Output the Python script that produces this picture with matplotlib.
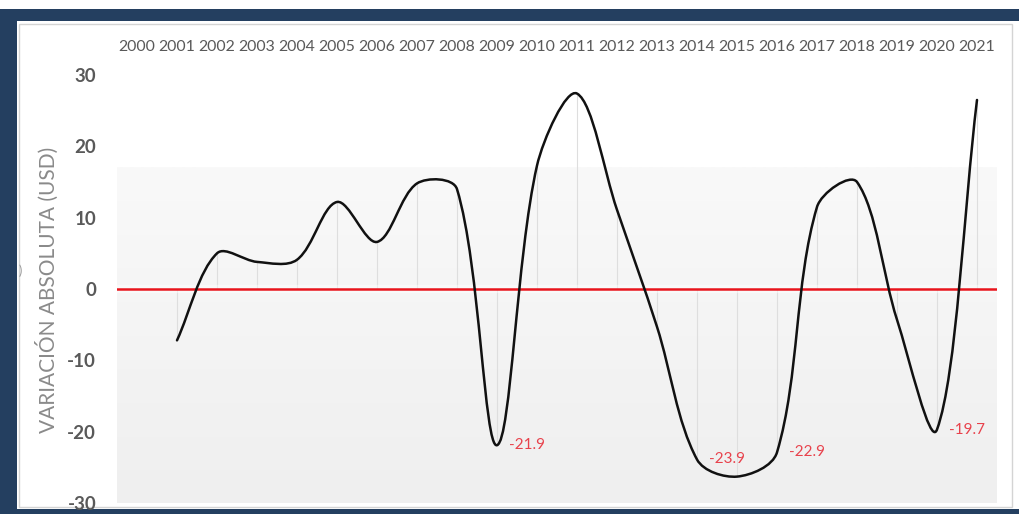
import numpy as np
import matplotlib
matplotlib.use("Agg")
import matplotlib.pyplot as plt
from matplotlib.path import Path
from matplotlib.patches import PathPatch, Rectangle

# ---- data -------------------------------------------------------------
years = list(range(2000, 2022))
series_years = list(range(2001, 2022))
variation = [-7.2, 5.0, 3.8, 4.1, 12.2, 6.6, 14.8, 14.0, -21.9, 17.3, 27.4,
             11.1, -5.3, -23.9, -26.3, -22.9, 11.5, 15.0, -4.3, -19.7, 26.5]
labelled_years = [2009, 2014, 2016, 2020]
y_ticks = [30, 20, 10, 0, -10, -20, -30]
y_title = "VARIACIÓN ABSOLUTA (USD)"

# ---- styling ----------------------------------------------------------
NAVY = "#243F60"
TXT = "#595959"
RED = "#E8141C"
LABEL_RED = "#E8424C"
plt.rcParams["font.family"] = ["Lato", "DejaVu Sans"]

W, H = 1020, 514
fig = plt.figure(figsize=(W / 100, H / 100), dpi=100)
fig.patch.set_facecolor("white")


def fx(px):
    return px / W


def fy(py):
    return 1 - py / H


# frame: navy bands and the white inner panel
for (x0, y0, x1, y1) in [(0, 9, 1020, 21), (0, 9, 17, 514), (0, 509, 1020, 514)]:
    fig.add_artist(Rectangle((fx(x0), fy(y1)), fx(x1) - fx(x0), fy(y0) - fy(y1),
                             transform=fig.transFigure, facecolor=NAVY,
                             edgecolor="none", zorder=0))
fig.add_artist(Rectangle((fx(19), fy(507)), fx(1012) - fx(19), fy(24) - fy(507),
                         transform=fig.transFigure, facecolor="white",
                         edgecolor="#D4D4D4", lw=1.0, zorder=0))

# ---- axes -------------------------------------------------------------
ax_left, ax_right, ax_top, ax_bottom = 117, 997, 75, 503
ax = fig.add_axes([fx(ax_left), fy(ax_bottom), fx(ax_right) - fx(ax_left),
                   fy(ax_top) - fy(ax_bottom)])
ax.set_facecolor("none")
for s in ax.spines.values():
    s.set_visible(False)

n = len(years)

# soft vertical gradient in the lower part of the plot area
grad = np.linspace(249, 239, 256)[:, None] / 255.0
grad_img = np.dstack([grad, grad, grad])
ax.imshow(grad_img, extent=(-0.5, n - 0.5, -30.2, 17.1), aspect="auto",
          origin="upper", zorder=0, interpolation="bilinear")
ax.set_xlim(-0.5, n - 0.5)
ax.set_ylim(-30, 30)

xs = np.array([years.index(y) for y in series_years], dtype=float)
ys = np.array(variation, dtype=float)

# drop lines from zero to each value
ax.vlines(xs, 0, ys, color="#DEDEDE", lw=0.8, zorder=1)

# zero reference line
ax.axhline(0, color="white", lw=6, alpha=0.45, zorder=2)
ax.axhline(0, color=RED, lw=1.8, zorder=3)


def smooth_path(x, y):
    """Bezier spline through every point; handle lengths weighted by the
    on-screen length of the neighbouring segments."""
    pts = np.column_stack([x, y])
    pix = ax.transData.transform(pts)
    m = len(pix)
    verts = [pix[0]]
    codes = [Path.MOVETO]

    def seg(a, b):
        return np.hypot(*(pix[b] - pix[a]))

    for i in range(m - 1):
        i0, i1, i2, i3 = max(i - 1, 0), i, i + 1, min(i + 2, m - 1)
        d01, d12, d23 = seg(i0, i1), seg(i1, i2), seg(i2, i3)
        c1 = pix[i1] + (pix[i2] - pix[i0]) * d12 / (d01 + d12) / 3.0
        c2 = pix[i2] - (pix[i3] - pix[i1]) * d12 / (d12 + d23) / 3.0
        verts += [c1, c2, pix[i2]]
        codes += [Path.CURVE4] * 3
    data_verts = ax.transData.inverted().transform(np.array(verts))
    return Path(data_verts, codes)


ax.add_patch(PathPatch(smooth_path(xs, ys), fill=False, edgecolor="#111111",
                       lw=1.8, capstyle="round", joinstyle="round", zorder=4))

# value labels on the troughs
for yr in labelled_years:
    i = series_years.index(yr)
    ax.annotate(f"{variation[i]:.1f}", (xs[i], ys[i]), xytext=(9, 0),
                textcoords="offset points", ha="left", va="center",
                fontsize=11, color=LABEL_RED, zorder=5)

# ticks
ax.xaxis.tick_top()
ax.set_xticks(range(n))
ax.set_xticklabels([str(y) for y in years], fontsize=11.4, color=TXT)
ax.tick_params(axis="x", length=0, pad=15)
ax.set_yticks(y_ticks)
ax.set_yticklabels([str(v) for v in y_ticks], fontsize=13.5, fontweight="bold",
                   color=TXT)
ax.tick_params(axis="y", length=0, pad=15)

fig.text(fx(47), fy(290), y_title, rotation=90, ha="center", va="center",
         fontsize=15, color="#8A8A8A")
fig.text(fx(20), fy(271), ")", ha="center", va="center", fontsize=9,
         color="#9A9A9A")

fig.savefig("out.png", dpi=100)
